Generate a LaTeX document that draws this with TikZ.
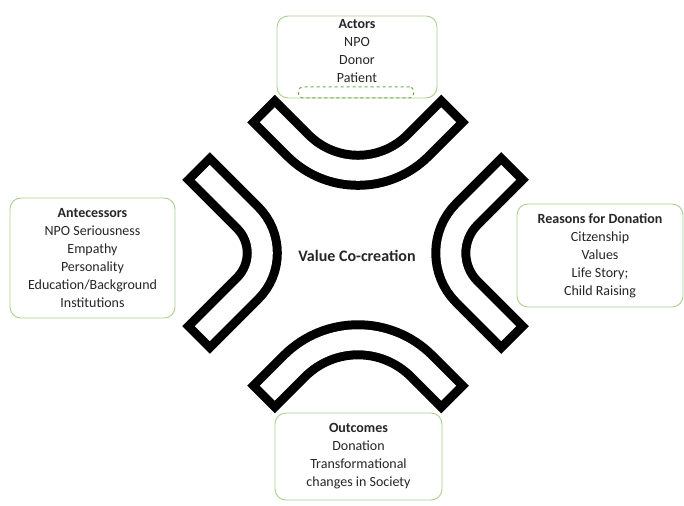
\documentclass[tikz,border=0pt]{standalone}
\usepackage{fontspec}
\setmainfont{Carlito}
\usepackage{tikz}
\usetikzlibrary{positioning}

\definecolor{boxgreen}{RGB}{169,209,142}
\definecolor{dashgreen}{RGB}{112,173,71}
\definecolor{txtgray}{RGB}{38,38,38}

\begin{document}
\begin{tikzpicture}[x=1pt, y=-1pt, font=\fontsize{14}{18}\selectfont, text=txtgray]
\tikzset{
  box/.style={draw=boxgreen, line width=0.9pt, rounded corners=11pt, align=center, fill=white},
  slot/.style={draw=dashgreen, dashed, line width=1pt, rounded corners=4pt, minimum width=115pt, minimum height=11pt},
  band/.style={line width=39pt, black},
  bandin/.style={line width=21pt, white, shorten <=9pt, shorten >=9pt},
}
\useasboundingbox (0,0) rectangle (684,505);

% Chevrons
\draw[band, rounded corners=85pt] (261,108.5) -- (358,205.5) -- (455,108.5);
\draw[bandin, rounded corners=85pt] (261,108.5) -- (358,205.5) -- (455,108.5);
\draw[band, rounded corners=90pt] (261,399.5) -- (358,302.5) -- (455,399.5);
\draw[bandin, rounded corners=90pt] (261,399.5) -- (358,302.5) -- (455,399.5);
\draw[band, rounded corners=50pt] (196,166) -- (283,253) -- (196,340);
\draw[bandin, rounded corners=50pt] (196,166) -- (283,253) -- (196,340);
\draw[band, rounded corners=55pt] (515,166) -- (428,253) -- (515,340);
\draw[bandin, rounded corners=55pt] (515,166) -- (428,253) -- (515,340);

% Centre
\node (value) [font=\fontsize{16}{18}\selectfont] at (357,256) {\textbf{Value Co-creation}};

% Actors
\node (actors) [box, minimum width=160pt, minimum height=82pt] at (357,57) {};
\node (actorstxt) [align=center] at (357,51) {\textbf{Actors}\\NPO\\Donor\\Patient};
\node (slotbox) [slot] at (356,92.5) {};

% Antecessors
\node (antec) [box, minimum width=165pt, minimum height=120pt] at (92.5,258) {\textbf{Antecessors}\\NPO Seriousness\\Empathy\\Personality\\Education/Background\\Institutions};

% Reasons for Donation
\node (reasons) [box, minimum width=166pt, minimum height=103pt] at (600,255.5) {\textbf{Reasons for Donation}\\Citzenship\\Values\\Life Story;\\Child Raising};

% Outcomes
\node (outcomes) [box, minimum width=167pt, minimum height=87pt] at (358.5,456.5) {\textbf{Outcomes}\\Donation\\Transformational\\changes in Society};

\end{tikzpicture}
\end{document}
